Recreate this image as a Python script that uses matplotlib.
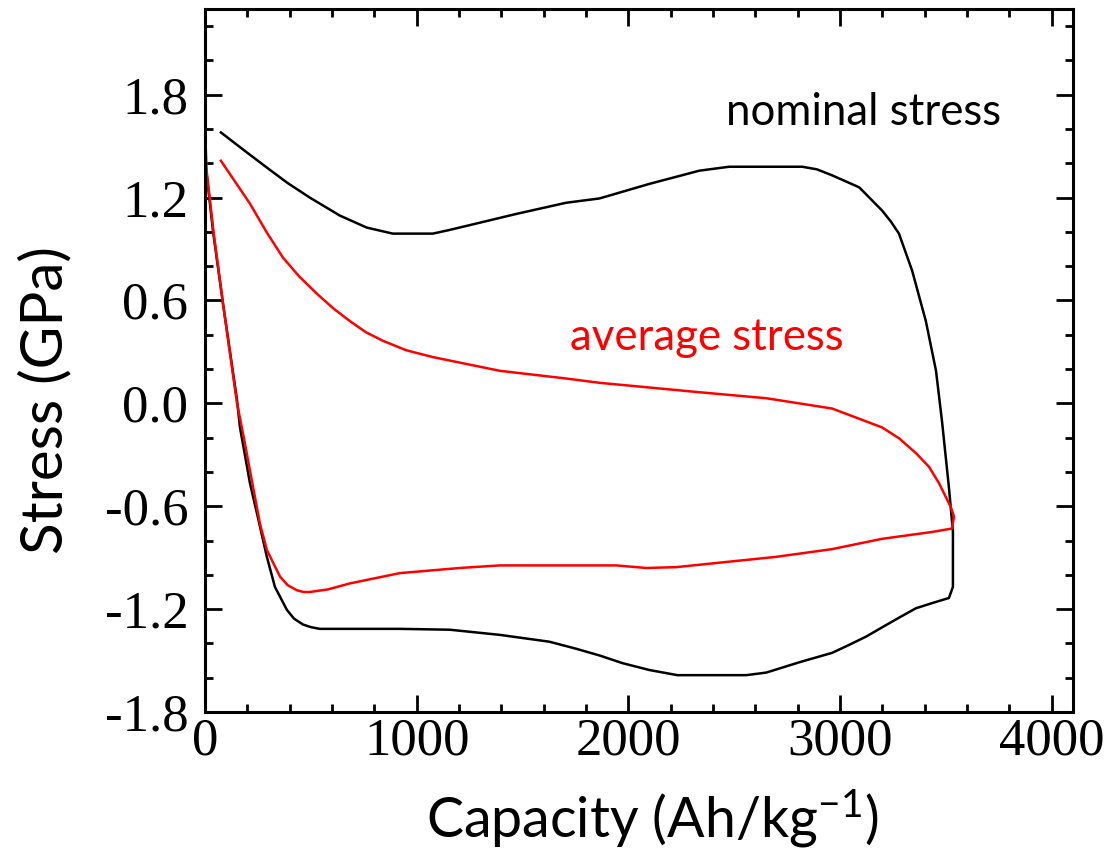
import matplotlib
matplotlib.use("Agg")
import matplotlib.pyplot as plt
from matplotlib.ticker import MultipleLocator, FixedLocator

matplotlib.rcParams["mathtext.fontset"] = "custom"
matplotlib.rcParams["mathtext.rm"] = "Lato"
matplotlib.rcParams["mathtext.it"] = "Lato:italic"

# nominal stress loop (capacity in Ah/kg, stress in GPa)
nominal_cap = [0, 9, 38, 85, 151, 165, 212, 245, 292, 330, 387, 420, 463, 500, 542, 920,
               1156, 1392, 1627, 1750, 1863, 1972, 2099, 2231, 2557, 2651, 2807, 2962, 3040,
               3123, 3200, 3278, 3358, 3434, 3514, 3533, 3533, 3528, 3514, 3481, 3453, 3405,
               3340, 3278, 3240, 3198, 3090, 2962, 2890, 2821, 2476, 2335, 2099, 1863, 1706,
               1471, 1235, 1150, 1076, 887, 764, 637, 495, 390, 292, 180, 75]
nominal_stress = [1.40, 1.32, 1.00, 0.58, 0.02, -0.14, -0.465, -0.64, -0.895, -1.07, -1.205,
                  -1.255, -1.29, -1.305, -1.315, -1.315, -1.32, -1.35, -1.39, -1.43, -1.47,
                  -1.515, -1.555, -1.585, -1.585, -1.57, -1.51, -1.455, -1.41, -1.36, -1.305,
                  -1.25, -1.195, -1.165, -1.135, -1.07, -0.75, -0.68, -0.49, -0.10, 0.19, 0.48,
                  0.775, 0.99, 1.06, 1.125, 1.26, 1.33, 1.365, 1.38, 1.38, 1.357, 1.28, 1.195,
                  1.17, 1.105, 1.035, 1.01, 0.99, 0.99, 1.025, 1.095, 1.20, 1.285, 1.375, 1.48,
                  1.58]

# average stress loop
average_cap = [0, 8, 40, 85, 151, 180, 259, 292, 354, 390, 434, 465, 495, 580, 684, 920, 1203,
               1392, 1943, 2084, 2226, 2462, 2698, 2962, 3198, 3434, 3528, 3538, 3523, 3467,
               3420, 3358, 3280, 3198, 2962, 2651, 2335, 1863, 1706, 1392, 1076, 950, 840, 760,
               684, 605, 528, 445, 368, 290, 212, 75]
average_stress = [1.58, 1.35, 1.00, 0.58, 0.00, -0.18, -0.70, -0.855, -1.01, -1.06, -1.09,
                  -1.10, -1.10, -1.085, -1.05, -0.99, -0.96, -0.945, -0.945, -0.96, -0.955,
                  -0.925, -0.895, -0.85, -0.79, -0.75, -0.73, -0.66, -0.605, -0.465, -0.37,
                  -0.29, -0.205, -0.14, -0.03, 0.03, 0.065, 0.12, 0.145, 0.19, 0.27, 0.31,
                  0.365, 0.415, 0.48, 0.555, 0.64, 0.74, 0.85, 1.0, 1.165, 1.415]

x_ticks = [0, 1000, 2000, 3000, 4000]
x_ticklabels = ["0", "1000", "2000", "3000", "4000"]
y_ticks = [-1.8, -1.2, -0.6, 0.0, 0.6, 1.2, 1.8]
y_ticklabels = ["-1.8", "-1.2", "-0.6", "0.0", "0.6", "1.2", "1.8"]

fig = plt.figure(figsize=(11.15, 8.64), dpi=100)
ax = fig.add_axes([0.1839, 0.1759, 0.9623 - 0.1839, 0.9896 - 0.1759])

ax.plot(nominal_cap, nominal_stress, color="black", lw=1.8)
ax.plot(average_cap, average_stress, color="#ff0000", lw=1.8)

ax.set_xlim(0, 4100)
ax.set_ylim(-1.8, 2.3)

ax.xaxis.set_major_locator(FixedLocator(x_ticks))
ax.xaxis.set_minor_locator(MultipleLocator(200))
ax.yaxis.set_major_locator(FixedLocator(y_ticks))
ax.yaxis.set_minor_locator(MultipleLocator(0.2))
ax.set_xticklabels(x_ticklabels, fontfamily="Liberation Serif", fontsize=38)
ax.set_yticklabels(y_ticklabels, fontfamily="Liberation Serif", fontsize=38)

ax.tick_params(which="both", direction="in", top=True, right=True, width=2)
ax.tick_params(which="major", length=12)
ax.tick_params(which="minor", length=6)
ax.tick_params(axis="x", which="major", pad=4)
ax.tick_params(axis="y", which="major", pad=12)
for s in ax.spines.values():
    s.set_linewidth(2.2)

ax.set_xlabel("Capacity (Ah/kg$^{-1}$)", fontfamily="Lato", fontsize=40)
ax.set_ylabel("Stress (GPa)", fontfamily="Lato", fontsize=42)
ax.xaxis.set_label_coords(0.515, -0.108)
ax.yaxis.set_label_coords(-0.153, 0.444)

ax.text(2462, 1.695, "nominal stress", fontfamily="Lato", fontsize=31.5,
        color="black", ha="left", va="center")
ax.text(1722, 0.385, "average stress", fontfamily="Lato", fontsize=31.5,
        color="#ff0000", ha="left", va="center")

plt.savefig("out.png", dpi=100)
